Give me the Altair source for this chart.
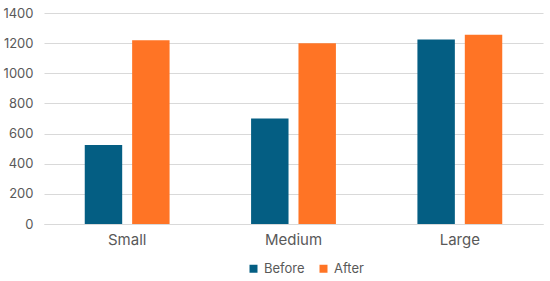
import altair as alt
import pandas as pd

categories = ["Small", "Medium", "Large"]
series = ["Before", "After"]
before = [525, 700, 1225]
after = [1220, 1200, 1255]
y_ticks = [0, 200, 400, 600, 800, 1000, 1200, 1400]
colors = ["#045E83", "#FF7425"]

rows = []
for c, b, a in zip(categories, before, after):
    rows.append({"size": c, "series": "Before", "value": b})
    rows.append({"size": c, "series": "After", "value": a})
df = pd.DataFrame(rows)

font = "Inter"

chart = alt.Chart(df).mark_bar().encode(
    x=alt.X("size:N", sort=categories,
            scale=alt.Scale(paddingInner=0.49, paddingOuter=0.245),
            axis=alt.Axis(title=None, labelAngle=0, ticks=False, domain=True,
                          domainColor="#d9d9d9", labelFontSize=15,
                          labelColor="#595959", labelPadding=8, labelFont=font)),
    xOffset=alt.XOffset("series:N", sort=series,
                        scale=alt.Scale(paddingInner=0.21)),
    y=alt.Y("value:Q", scale=alt.Scale(domain=[0, 1400]),
            axis=alt.Axis(title=None, values=y_ticks, ticks=False, domain=False,
                          format="d",
                          gridColor="#d9d9d9", labelFontSize=13,
                          labelColor="#595959", labelPadding=11, labelFont=font)),
    color=alt.Color("series:N", sort=series,
                    scale=alt.Scale(domain=series, range=colors),
                    legend=alt.Legend(title=None, orient="none", direction="horizontal",
                                      legendX=203, legendY=249, symbolType="square",
                                      symbolSize=64, symbolStrokeWidth=0,
                                      labelOffset=4,
                                      labelFontSize=13, labelColor="#595959",
                                      labelFont=font, columnPadding=12)),
).properties(
    width=499, height=211,
    autosize=alt.AutoSizeParams(type="none"),
    padding={"left": 44, "top": 13, "right": 7, "bottom": 57},
).configure_view(stroke=None)

chart.save("out.html", embed_options={"renderer": "svg", "actions": False})
